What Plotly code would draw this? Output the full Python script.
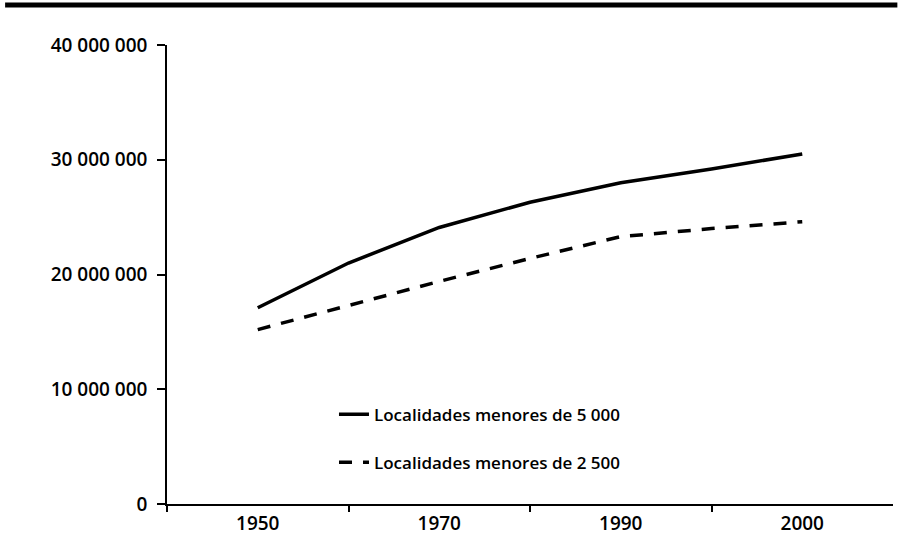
import plotly.graph_objects as go

# census years (x categories) and population series
years = ["1950", "1960", "1970", "1980", "1990", "1995", "2000"]
menores_5000 = [17100000, 21000000, 24100000, 26300000, 28000000, 29200000, 30500000]
menores_2500 = [15200000, 17300000, 19400000, 21400000, 23300000, 24000000, 24600000]
series_names = ["Localidades menores de 5 000", "Localidades menores de 2 500"]

x_labels = ["1950", "1970", "1990", "2000"]
y_ticks = [0, 10000000, 20000000, 30000000, 40000000]
y_labels = ["0", "10 000 000", "20 000 000", "30 000 000", "40 000 000"]

FONT = "Open Sans"
pos = list(range(len(years)))

fig = go.Figure()
fig.add_trace(
    go.Scatter(
        x=pos, y=menores_5000, name=series_names[0], mode="lines",
        line=dict(color="black", width=3.5), legendgroup="a",
    )
)
fig.add_trace(
    go.Scatter(
        x=pos, y=menores_2500, name=series_names[1], mode="lines",
        line=dict(color="black", width=3.5, dash="13px,11px"), legendgroup="b",
    )
)

fig.update_xaxes(
    range=[-1, len(years)],
    tickvals=[pos[years.index(y)] for y in x_labels],
    ticktext=x_labels,
    ticks="",
    showline=True, linecolor="black", linewidth=1.5,
    showgrid=False, zeroline=False,
    minor=dict(tickvals=[-1, 1, 3, 5], ticks="outside", ticklen=6,
               tickcolor="black", tickwidth=1.5, showgrid=False),
    tickfont=dict(family=FONT, size=19, color="black", weight=600),
    ticklabelstandoff=1,
)
fig.update_yaxes(
    range=[0, 40000000],
    tickvals=y_ticks, ticktext=y_labels,
    ticks="outside", ticklen=8, tickcolor="black", tickwidth=1.5,
    showline=True, linecolor="black", linewidth=1.5,
    showgrid=False, zeroline=False,
    tickfont=dict(family=FONT, size=19, color="black", weight=600),
    ticklabelstandoff=6,
)

# heavy rule across the top of the figure
fig.add_shape(type="line", xref="paper", yref="paper",
              x0=-0.223, x1=1.006, y0=1.087, y1=1.087,
              line=dict(color="black", width=5))

fig.update_layout(
    width=902, height=551,
    margin=dict(l=167, r=9, t=45, b=47),
    paper_bgcolor="white", plot_bgcolor="white",
    showlegend=True,
    legend=dict(
        x=0.23, y=0.234, xanchor="left", yanchor="top",
        bgcolor="rgba(0,0,0,0)", traceorder="grouped", tracegroupgap=23,
        font=dict(family=FONT, size=17, color="black", weight=600),
        itemwidth=30,
    ),
)

fig.write_html(
    "out.html",
    config={"displayModeBar": False},
    post_script="document.body.style.margin = '0';",
)
